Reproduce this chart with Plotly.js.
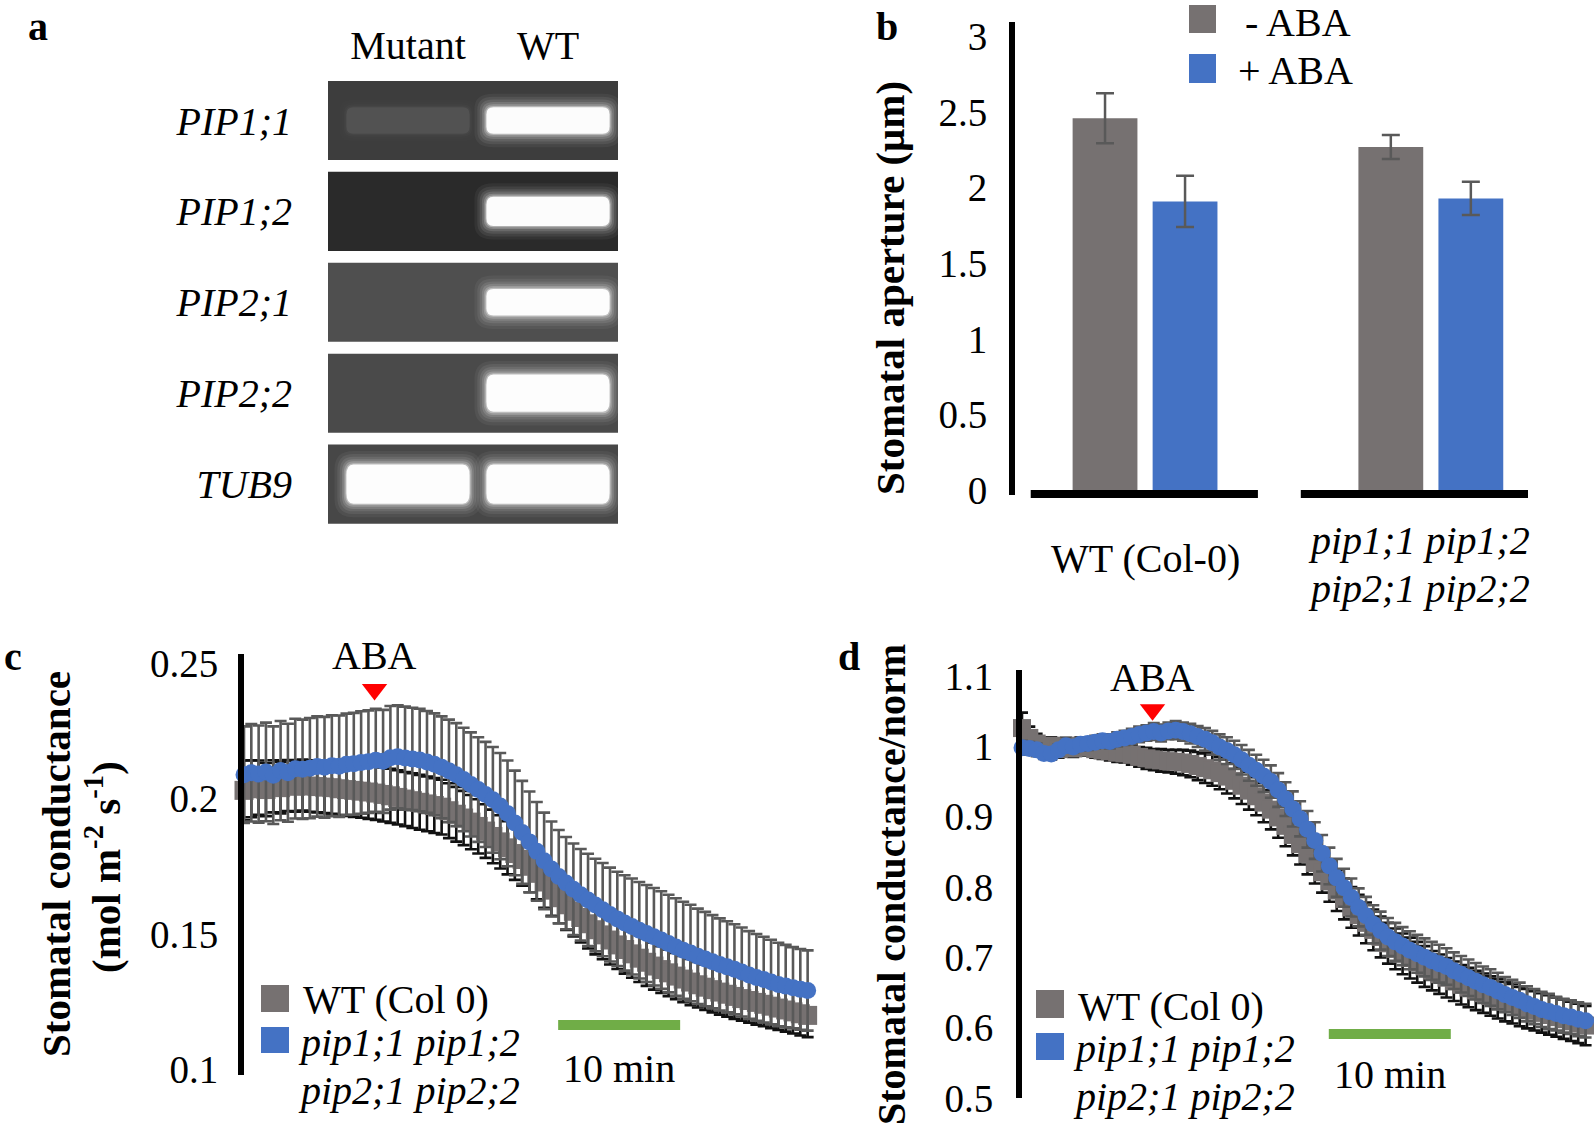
<!DOCTYPE html>
<html>
<head>
<meta charset="utf-8">
<script src="https://cdn.plot.ly/plotly-3.0.1.min.js"></script>
<style>html,body{margin:0;padding:0;background:#fff;}#chart{width:1594px;height:1132px;}</style>
</head>
<body>
<div id="chart"></div>
<script>
// ---------------- DATA ----------------
// Panel a: RT-PCR gel
const genes = ['PIP1;1', 'PIP1;2', 'PIP2;1', 'PIP2;2', 'TUB9'];
const lanes = ['Mutant', 'WT'];
const bandMutant = [0.07, 0, 0, 0, 1];   // relative band brightness
const bandWT = [1, 1, 1, 1, 1];

// Panel b: stomatal aperture (µm)
const genotypes = ['WT (Col-0)', 'pip1;1 pip1;2 pip2;1 pip2;2'];
const minusABA = [2.46, 2.27];
const minusABAerr = [0.165, 0.08];
const plusABA = [1.91, 1.93];
const plusABAerr = [0.17, 0.11];

// Panels c, d: time course (min)
const timeMin = [0,0.6,1.2,1.8,2.4,3,3.6,4.2,4.8,5.4,
  6,6.6,7.2,7.8,8.4,9,9.6,10.2,10.8,11.4,
  12,12.6,13.2,13.8,14.4,15,15.6,16.2,16.8,17.4,
  18,18.6,19.2,19.8,20.4,21,21.6,22.2,22.8,23.4,
  24,24.6,25.2,25.8,26.4,27,27.6,28.2,28.8,29.4,
  30,30.6,31.2,31.8,32.4,33,33.6,34.2,34.8,35.4,
  36,36.6,37.2,37.8,38.4,39,39.6,40.2,40.8,41.4,
  42,42.6,43.2,43.8,44.4,45,45.6,46.2];
const abaTimeMin = 10.7;
const scaleBarMin = 10;

// c: stomatal conductance (mol m-2 s-1)
const wtC = [0.2030,0.2036,0.2040,0.2033,0.2045,0.2040,0.2048,0.2045,0.2050,0.2046,
  0.2044,0.2042,0.2040,0.2036,0.2033,0.2030,0.2027,0.2024,0.2020,0.2015,
  0.2010,0.2004,0.1998,0.1992,0.1986,0.1980,0.1974,0.1968,0.1955,0.1942,
  0.1928,0.1913,0.1897,0.1880,0.1860,0.1840,0.1818,0.1797,0.1775,0.1750,
  0.1724,0.1692,0.1662,0.1634,0.1608,0.1584,0.1561,0.1538,0.1516,0.1497,
  0.1478,0.1460,0.1443,0.1427,0.1411,0.1396,0.1382,0.1369,0.1357,0.1345,
  0.1334,0.1323,0.1313,0.1304,0.1295,0.1286,0.1278,0.1270,0.1262,0.1255,
  0.1248,0.1241,0.1234,0.1227,0.1220,0.1213,0.1206,0.1200];
const wtCerr = [0.0110,0.0105,0.0100,0.0098,0.0096,0.0095,0.0094,0.0094,0.0094,0.0095,
  0.0095,0.0096,0.0096,0.0097,0.0097,0.0098,0.0098,0.0099,0.0099,0.0100,
  0.0100,0.0100,0.0100,0.0101,0.0101,0.0101,0.0101,0.0101,0.0101,0.0101,
  0.0100,0.0100,0.0100,0.0099,0.0099,0.0098,0.0098,0.0097,0.0097,0.0096,
  0.0096,0.0095,0.0095,0.0094,0.0093,0.0093,0.0092,0.0091,0.0091,0.0090,
  0.0090,0.0089,0.0089,0.0088,0.0088,0.0087,0.0087,0.0086,0.0086,0.0085,
  0.0085,0.0085,0.0084,0.0084,0.0084,0.0083,0.0083,0.0083,0.0082,0.0082,
  0.0082,0.0081,0.0081,0.0081,0.0080,0.0080,0.0080,0.0080];
const pipC = [0.2088,0.2095,0.2090,0.2098,0.2086,0.2103,0.2095,0.2110,0.2108,0.2112,
  0.2118,0.2115,0.2121,0.2119,0.2126,0.2128,0.2133,0.2136,0.2141,0.2137,
  0.2150,0.2154,0.2149,0.2146,0.2142,0.2135,0.2126,0.2115,0.2102,0.2088,
  0.2070,0.2052,0.2033,0.2015,0.1995,0.1972,0.1945,0.1910,0.1875,0.1840,
  0.1805,0.1770,0.1740,0.1712,0.1688,0.1665,0.1645,0.1626,0.1607,0.1590,
  0.1572,0.1556,0.1541,0.1528,0.1514,0.1502,0.1490,0.1478,0.1465,0.1452,
  0.1440,0.1430,0.1418,0.1408,0.1398,0.1388,0.1379,0.1370,0.1360,0.1349,
  0.1340,0.1332,0.1323,0.1314,0.1308,0.1302,0.1296,0.1292];
const pipCerr = [0.0178,0.0180,0.0179,0.0182,0.0180,0.0183,0.0181,0.0184,0.0183,0.0185,
  0.0185,0.0186,0.0186,0.0187,0.0187,0.0188,0.0189,0.0189,0.0190,0.0190,
  0.0191,0.0190,0.0190,0.0189,0.0189,0.0188,0.0188,0.0188,0.0189,0.0190,
  0.0191,0.0192,0.0193,0.0194,0.0195,0.0196,0.0195,0.0193,0.0190,0.0186,
  0.0182,0.0178,0.0175,0.0172,0.0170,0.0169,0.0169,0.0170,0.0171,0.0172,
  0.0173,0.0174,0.0176,0.0177,0.0178,0.0179,0.0180,0.0180,0.0180,0.0180,
  0.0179,0.0178,0.0176,0.0174,0.0172,0.0170,0.0168,0.0166,0.0164,0.0162,
  0.0160,0.0158,0.0156,0.0154,0.0152,0.0150,0.0149,0.0148];

// d: normalised stomatal conductance
const wtD = [1.026,1.012,1.004,0.998,1.001,0.996,1.000,0.997,1.001,0.999,
  0.996,0.994,0.993,0.991,0.990,0.988,0.985,0.983,0.981,0.980,
  0.979,0.978,0.977,0.975,0.972,0.969,0.966,0.962,0.957,0.951,
  0.944,0.937,0.929,0.920,0.910,0.899,0.887,0.874,0.861,0.847,
  0.834,0.821,0.808,0.795,0.783,0.771,0.760,0.749,0.739,0.729,
  0.720,0.712,0.705,0.699,0.693,0.687,0.681,0.676,0.671,0.666,
  0.661,0.657,0.653,0.649,0.645,0.641,0.637,0.634,0.630,0.627,
  0.624,0.621,0.618,0.615,0.612,0.609,0.606,0.603];
const wtDerr = [0.022,0.016,0.014,0.013,0.012,0.012,0.012,0.012,0.012,0.012,
  0.012,0.012,0.013,0.013,0.013,0.014,0.014,0.015,0.015,0.016,
  0.016,0.017,0.018,0.019,0.020,0.021,0.022,0.023,0.024,0.025,
  0.026,0.027,0.027,0.028,0.028,0.029,0.029,0.029,0.029,0.029,
  0.029,0.029,0.029,0.029,0.029,0.029,0.029,0.029,0.029,0.029,
  0.029,0.029,0.029,0.029,0.029,0.029,0.028,0.028,0.028,0.028,
  0.028,0.028,0.028,0.028,0.028,0.028,0.028,0.028,0.028,0.028,
  0.028,0.028,0.028,0.028,0.028,0.028,0.028,0.028];
const pipD = [0.998,0.997,0.995,0.990,0.989,0.995,1.001,0.999,1.003,1.004,
  1.006,1.008,1.007,1.010,1.012,1.014,1.017,1.019,1.021,1.019,
  1.022,1.023,1.021,1.018,1.014,1.010,1.005,0.999,0.994,0.988,
  0.981,0.973,0.966,0.958,0.950,0.938,0.925,0.911,0.897,0.882,
  0.866,0.848,0.830,0.813,0.799,0.785,0.771,0.759,0.747,0.738,
  0.729,0.722,0.716,0.710,0.705,0.700,0.695,0.691,0.687,0.681,
  0.676,0.671,0.666,0.661,0.657,0.652,0.647,0.643,0.639,0.634,
  0.630,0.626,0.623,0.620,0.617,0.615,0.612,0.610];
const pipDerr = [0.010,0.009,0.009,0.008,0.008,0.008,0.008,0.008,0.009,0.009,
  0.009,0.009,0.010,0.010,0.010,0.011,0.011,0.011,0.012,0.012,
  0.012,0.013,0.013,0.014,0.015,0.016,0.017,0.018,0.019,0.020,
  0.021,0.022,0.022,0.023,0.023,0.024,0.024,0.025,0.025,0.026,
  0.026,0.026,0.026,0.027,0.027,0.027,0.027,0.027,0.027,0.027,
  0.027,0.027,0.027,0.027,0.027,0.027,0.027,0.027,0.026,0.026,
  0.026,0.026,0.026,0.026,0.026,0.026,0.025,0.025,0.025,0.025,
  0.025,0.025,0.025,0.024,0.024,0.024,0.024,0.024];

const cTicks = [0.1, 0.15, 0.2, 0.25];
const dTicks = [0.5, 0.6, 0.7, 0.8, 0.9, 1, 1.1];
const bTicks = [0, 0.5, 1, 1.5, 2, 2.5, 3];

// ---------------- STYLE ----------------
const W = 1594, H = 1132;
const fx = px => px / W;
const fy = px => 1 - px / H;
const SERIF = 'Liberation Serif, Times New Roman, serif';
const GRAY = '#767171', BLUE = '#4472C4', GREEN = '#70AD47', ERR = '#595959';
const FS = 39;

const gelBg = ['#3d3d3d', '#2a2a2a', '#4f4f4f', '#4a4a4a', '#474747'];
const bandHalfH = [0.145, 0.16, 0.145, 0.205, 0.215];
const bandHalfW = 0.44;
const rowHalf = 0.435;

function rrect(x0, x1, y0, y1, rx, ry) {
  return `M ${x0+rx},${y0} L ${x1-rx},${y0} Q ${x1},${y0} ${x1},${y0+ry} L ${x1},${y1-ry} Q ${x1},${y1} ${x1-rx},${y1} L ${x0+rx},${y1} Q ${x0},${y1} ${x0},${y1-ry} L ${x0},${y0+ry} Q ${x0},${y0} ${x0+rx},${y0} Z`;
}

const shapes = [];
// Gel backgrounds and bands (soft glow built from stacked translucent layers)
const glow = [
  {px: 0.085, py: 0.15, op: 0.05}, {px: 0.065, py: 0.115, op: 0.07}, {px: 0.048, py: 0.085, op: 0.09},
  {px: 0.032, py: 0.058, op: 0.13}, {px: 0.019, py: 0.035, op: 0.2}, {px: 0.008, py: 0.015, op: 0.35},
  {px: 0, py: 0, op: 0.96}];
genes.forEach((g, r) => {
  shapes.push({type: 'rect', xref: 'x', yref: 'y', x0: -0.5714, x1: 1.5, y0: r - rowHalf, y1: r + rowHalf,
    fillcolor: gelBg[r], line: {width: 0}, layer: 'below'});
  [bandMutant[r], bandWT[r]].forEach((I, lane) => {
    if (I <= 0) return;
    glow.forEach(L => {
      const x0 = lane - bandHalfW - L.px, x1 = lane + bandHalfW + L.px;
      const y0 = r - bandHalfH[r] - L.py, y1 = r + bandHalfH[r] + L.py;
      const hy = (y1 - y0) / 2;
      shapes.push({type: 'path', xref: 'x', yref: 'y', path: rrect(x0, x1, y0, y1, 0.05 + L.px, hy * 0.55),
        fillcolor: 'rgba(255,255,255,' + (I * L.op).toFixed(3) + ')', line: {width: 0}});
    });
  });
});

// Panel b broken baseline
[[-0.40, 0.395], [0.545, 1.34]].forEach(s => {
  shapes.push({type: 'line', xref: 'x2', yref: 'paper', x0: s[0], x1: s[1], y0: fy(494), y1: fy(494),
    line: {color: 'black', width: 8}});
});
// Legend squares
function sq(x0, x1, y0, y1, c) {
  shapes.push({type: 'rect', xref: 'paper', yref: 'paper', x0: fx(x0), x1: fx(x1), y0: fy(y1), y1: fy(y0),
    fillcolor: c, line: {width: 0}});
}
sq(1189, 1216, 5, 33, GRAY); sq(1189, 1216, 54, 83, BLUE);
sq(261, 289, 985, 1012, GRAY); sq(261, 289, 1027, 1053, BLUE);
sq(1036, 1064, 990, 1018, GRAY); sq(1036, 1064, 1033, 1060, BLUE);
// Scale bars (10 min)
shapes.push({type: 'line', xref: 'x3', yref: 'paper', x0: 25.75, x1: 25.75 + scaleBarMin, y0: fy(1025), y1: fy(1025),
  line: {color: GREEN, width: 10}});
shapes.push({type: 'line', xref: 'x4', yref: 'paper', x0: 25.15, x1: 25.15 + scaleBarMin, y0: fy(1034), y1: fy(1034),
  line: {color: GREEN, width: 10}});

function A(text, xpx, ypx, o = {}) {
  return {text: text, x: o.xref ? xpx : fx(xpx), y: fy(ypx), xref: o.xref || 'paper', yref: 'paper',
    showarrow: false, xanchor: o.xa || 'center', yanchor: 'middle', textangle: o.angle || 0, borderpad: 0,
    font: {family: o.family || SERIF, size: o.size || 40, color: o.color || 'black'}};
}

const annotations = [
  A('<b>a</b>', 38, 27),
  A('<b>b</b>', 887, 27),
  A('<b>c</b>', 13, 656),
  A('<b>d</b>', 849, 656),
  // b legend
  A('- ABA', 1244, 22, {xa: 'left'}),
  A('+ ABA', 1237, 70, {xa: 'left'}),
  // b y title
  A('<b>Stomatal aperture (μm)</b>', 890, 288, {angle: -90, size: 41}),
  // b category labels
  A(genotypes[0], 0, 558, {xref: 'x2'}),
  A('<i>pip1;1 pip1;2</i>', 0.96, 540, {xref: 'x2'}),
  A('<i>pip2;1 pip2;2</i>', 0.96, 588, {xref: 'x2'}),
  // c
  A('<b>Stomatal conductance</b>', 56, 864, {angle: -90, size: 41}),
  A('<b>(mol m<sup>-2</sup> s<sup>-1</sup>)</b>', 103, 867, {angle: -90, size: 41}),
  A('ABA', abaTimeMin, 655, {xref: 'x3'}),
  A('10 min', 25.75 + scaleBarMin / 2, 1068, {xref: 'x3'}),
  A('WT (Col 0)', 302, 1000, {xa: 'left'}),
  A('<i>pip1;1 pip1;2</i>', 297, 1042, {xa: 'left'}),
  A('<i>pip2;1 pip2;2</i>', 297, 1090, {xa: 'left'}),
  // d
  A('<b>Stomatal conductance/norm</b>', 891, 885, {angle: -90, size: 40}),
  A('ABA', abaTimeMin, 677, {xref: 'x4'}),
  A('10 min', 25.15 + scaleBarMin / 2, 1074, {xref: 'x4'}),
  A('WT (Col 0)', 1077, 1006, {xa: 'left'}),
  A('<i>pip1;1 pip1;2</i>', 1072, 1048, {xa: 'left'}),
  A('<i>pip2;1 pip2;2</i>', 1072, 1096, {xa: 'left'}),
];

function series(x, y, err, xa, ya, name, symbol, size, color, errColor) {
  return {type: 'scatter', mode: 'markers', x: x, y: y, xaxis: xa, yaxis: ya, name: name, showlegend: false,
    cliponaxis: false, hoverinfo: 'skip',
    marker: {symbol: symbol, size: size, color: color, line: {width: 0}},
    error_y: {type: 'data', array: err, visible: true, color: errColor, thickness: 2.6, width: 6}};
}
// ABA application marker (red triangle), placed just above the traces
function abaMarker(xa, ya, yval) {
  return {type: 'scatter', mode: 'markers', x: [abaTimeMin], y: [yval], xaxis: xa, yaxis: ya, showlegend: false,
    cliponaxis: false, hoverinfo: 'skip', name: 'ABA',
    marker: {symbol: 'triangle-down', size: 22, color: '#ff0000', line: {width: 0}}};
}

const traces = [
  // panel a placeholder trace so the gel axes exist
  {type: 'scatter', x: [0, 1], y: [0, 0], mode: 'markers', marker: {opacity: 0}, xaxis: 'x', yaxis: 'y',
    showlegend: false, hoverinfo: 'skip'},
  // panel b
  {type: 'bar', x: genotypes, y: minusABA, name: '- ABA', xaxis: 'x2', yaxis: 'y2', showlegend: false,
    marker: {color: GRAY}, error_y: {type: 'data', array: minusABAerr, color: ERR, thickness: 2.5, width: 9}},
  {type: 'bar', x: genotypes, y: plusABA, name: '+ ABA', xaxis: 'x2', yaxis: 'y2', showlegend: false,
    marker: {color: BLUE}, error_y: {type: 'data', array: plusABAerr, color: ERR, thickness: 2.5, width: 9}},
  // panel c
  series(timeMin, wtC, wtCerr, 'x3', 'y3', 'WT (Col 0)', 'square', 19, GRAY, '#111111'),
  series(timeMin, pipC, pipCerr, 'x3', 'y3', 'pip1;1 pip1;2 pip2;1 pip2;2', 'circle', 17, BLUE, ERR),
  abaMarker('x3', 'y3', 0.2402),
  // panel d
  series(timeMin, wtD, wtDerr, 'x4', 'y4', 'WT (Col 0)', 'square', 18, GRAY, '#111111'),
  series(timeMin, pipD, pipDerr, 'x4', 'y4', 'pip1;1 pip1;2 pip2;1 pip2;2', 'circle', 17, BLUE, ERR),
  abaMarker('x4', 'y4', 1.052),
];

const hidden = {showgrid: false, zeroline: false, showline: false, showticklabels: false, ticks: ''};
function yax(domPx, range, ticks, ticklen) {
  return {domain: [fy(domPx[1]), fy(domPx[0])], range: range, showgrid: false, zeroline: false,
    showline: true, linecolor: 'black', linewidth: 6, ticks: 'outside', ticklen: ticklen,
    tickcolor: 'rgba(0,0,0,0)', tickvals: ticks, ticktext: ticks.map(String),
    tickfont: {family: SERIF, size: FS, color: 'black'}};
}

const layout = {
  width: W, height: H, margin: {l: 0, r: 0, t: 0, b: 0},
  paper_bgcolor: '#ffffff', plot_bgcolor: 'rgba(0,0,0,0)',
  font: {family: SERIF, size: FS, color: 'black'},
  showlegend: false,
  barmode: 'group', bargap: 0.44, bargroupgap: 0.19,
  // panel a
  xaxis: {domain: [fx(328), fx(618)], range: [-0.5714, 1.5], anchor: 'y', side: 'top',
    showgrid: false, zeroline: false, showline: false, ticks: 'outside', ticklen: 5, tickcolor: 'rgba(0,0,0,0)',
    tickvals: [0, 1], ticktext: lanes, tickfont: {family: SERIF, size: 40, color: 'black'}, fixedrange: true},
  yaxis: {domain: [fy(524), fy(81)], range: [4.439, -0.4345], anchor: 'x',
    showgrid: false, zeroline: false, showline: false, ticks: 'outside', ticklen: 27, tickcolor: 'rgba(0,0,0,0)',
    tickvals: genes.map((g, i) => i), ticktext: genes.map(g => '<i>' + g + '</i>'),
    tickfont: {family: SERIF, size: 40, color: 'black'}, fixedrange: true},
  // panel b
  xaxis2: Object.assign({domain: [fx(1015), fx(1528)], range: [-0.455, 1.34], anchor: 'y2', type: 'category'}, hidden),
  yaxis2: Object.assign(yax([21.6, 495.3], [-0.035, 3.1], bTicks, 14), {anchor: 'x2'}),
  // panel c
  xaxis3: Object.assign({domain: [fx(244), fx(817.4)], range: [0, 47], anchor: 'y3'}, hidden),
  yaxis3: Object.assign(yax([654, 1074.5], [0.0982, 0.2533], cTicks, 12), {anchor: 'x3'}),
  // panel d
  xaxis4: Object.assign({domain: [fx(1022), 1], range: [0, 46.89], anchor: 'y4'}, hidden),
  yaxis4: Object.assign(yax([670.4, 1098], [0.5, 1.108], dTicks, 15), {anchor: 'x4'}),
  shapes: shapes,
  annotations: annotations,
};

Plotly.newPlot('chart', traces, layout, {displayModeBar: false, staticPlot: true});
</script>
</body>
</html>
